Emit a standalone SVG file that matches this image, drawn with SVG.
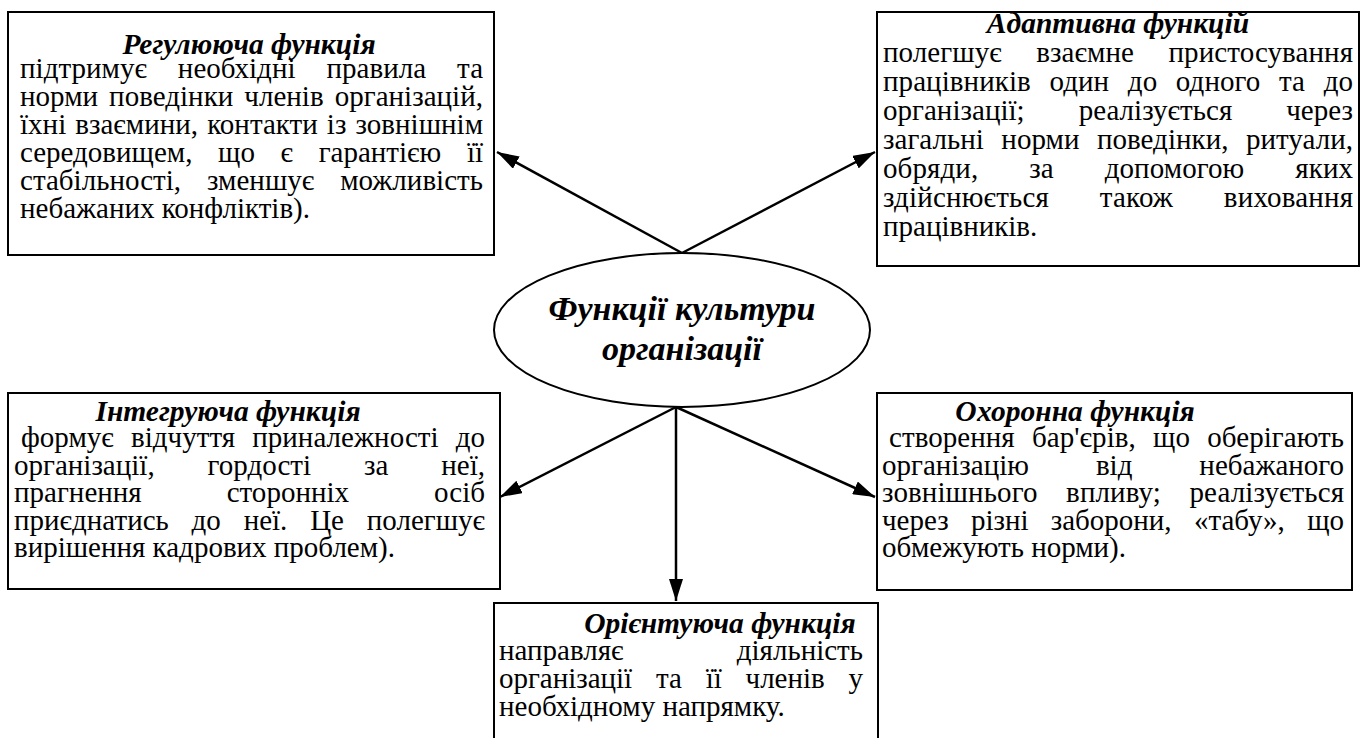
<svg xmlns="http://www.w3.org/2000/svg" width="1371" height="738" viewBox="0 0 1371 738">
<style>
.box{fill:#fff;stroke:#000;stroke-width:2}
.t{font-family:"Liberation Serif","Times New Roman",serif;font-size:29px;fill:#000}
.h{font-size:29.5px;font-weight:bold;font-style:italic;text-anchor:middle}
.c{font-family:"Liberation Serif","Times New Roman",serif;font-size:34px;font-weight:bold;font-style:italic;text-anchor:middle;fill:#000}
.conn{stroke:#000;stroke-width:2.5;fill:none;marker-end:url(#ah)}
</style>
<defs>
<marker id="ah" markerUnits="userSpaceOnUse" markerWidth="22" markerHeight="14" refX="22" refY="7" orient="auto">
<path d="M0,0 L22,7 L0,14 z" fill="#000"/>
</marker>
</defs>
<g id="connectors">
<path class="conn" d="M682,253 L497,152"/>
<path class="conn" d="M682,253 L875,152"/>
<path class="conn" d="M676,407 L500,497"/>
<path class="conn" d="M676,407 L875,497"/>
<path class="conn" d="M676,407 L676,601"/>
</g>
<g id="center">
<ellipse class="box" cx="682" cy="330" rx="188" ry="77"/>
<text class="c" x="682" y="320">Функції культури</text>
<text class="c" x="682" y="360">організації</text>
</g>
<g id="regul">
<rect class="box" x="8" y="12" width="486" height="243"/>
<text class="t h" x="249" y="54">Регулююча функція</text>
<text class="t" x="20" y="78" style="word-spacing:23.7px" textLength="463" lengthAdjust="spacing">підтримує необхідні правила та</text>
<text class="t" x="20" y="106" style="word-spacing:3.7px" textLength="463" lengthAdjust="spacing">норми поведінки членів організацій,</text>
<text class="t" x="20" y="134" style="word-spacing:1.8px" textLength="463" lengthAdjust="spacing">їхні взаємини, контакти із зовнішнім</text>
<text class="t" x="20" y="162" style="word-spacing:18.4px" textLength="463" lengthAdjust="spacing">середовищем, що є гарантією її</text>
<text class="t" x="20" y="190" style="word-spacing:18.7px" textLength="463" lengthAdjust="spacing">стабільності, зменшує можливість</text>
<text class="t" x="20" y="218">небажаних конфліктів).</text>
</g>
<g id="adapt">
<rect class="box" x="877" y="12" width="482" height="254"/>
<text class="t h" x="1118" y="33">Адаптивна функцій</text>
<text class="t" x="883" y="62" style="word-spacing:27.1px" textLength="470" lengthAdjust="spacing">полегшує взаємне пристосування</text>
<text class="t" x="883" y="91" style="word-spacing:11.3px" textLength="470" lengthAdjust="spacing">працівників один до одного та до</text>
<text class="t" x="883" y="120" style="word-spacing:46.7px" textLength="470" lengthAdjust="spacing">організації; реалізується через</text>
<text class="t" x="883" y="149" style="word-spacing:10.1px" textLength="470" lengthAdjust="spacing">загальні норми поведінки, ритуали,</text>
<text class="t" x="883" y="178" style="word-spacing:43.6px" textLength="470" lengthAdjust="spacing">обряди, за допомогою яких</text>
<text class="t" x="883" y="207" style="word-spacing:43.3px" textLength="470" lengthAdjust="spacing">здійснюється також виховання</text>
<text class="t" x="883" y="236">працівників.</text>
</g>
<g id="integr">
<rect class="box" x="8" y="393" width="492" height="196"/>
<text class="t h" x="228" y="421">Інтегруюча функція</text>
<text class="t" x="21" y="447" style="word-spacing:9.8px" textLength="464" lengthAdjust="spacing">формує відчуття приналежності до</text>
<text class="t" x="14" y="475" style="word-spacing:45.7px" textLength="471" lengthAdjust="spacing">організації, гордості за неї,</text>
<text class="t" x="14" y="502" style="word-spacing:77.7px" textLength="471" lengthAdjust="spacing">прагнення сторонніх осіб</text>
<text class="t" x="14" y="530" style="word-spacing:15.5px" textLength="471" lengthAdjust="spacing">приєднатись до неї. Це полегшує</text>
<text class="t" x="14" y="557">вирішення кадрових проблем).</text>
</g>
<g id="okhoron">
<rect class="box" x="877" y="393" width="475" height="197"/>
<text class="t h" x="1075" y="421">Охоронна функція</text>
<text class="t" x="889" y="447" style="word-spacing:10px" textLength="455" lengthAdjust="spacing">створення бар'єрів, що оберігають</text>
<text class="t" x="882" y="475" style="word-spacing:59.7px" textLength="462" lengthAdjust="spacing">організацію від небажаного</text>
<text class="t" x="882" y="502" style="word-spacing:21.2px" textLength="462" lengthAdjust="spacing">зовнішнього впливу; реалізується</text>
<text class="t" x="882" y="530" style="word-spacing:15.1px" textLength="462" lengthAdjust="spacing">через різні заборони, «табу», що</text>
<text class="t" x="882" y="557">обмежують норми).</text>
</g>
<g id="orient">
<rect class="box" x="494" y="603" width="384" height="145"/>
<text class="t h" x="720" y="633">Орієнтуюча функція</text>
<text class="t" x="499" y="660">направляє</text>
<text class="t" x="863" y="660" text-anchor="end">діяльність</text>
<text class="t" x="499" y="688" style="word-spacing:16.6px" textLength="364" lengthAdjust="spacing">організації та її членів у</text>
<text class="t" x="499" y="716">необхідному напрямку.</text>
</g>
</svg>
